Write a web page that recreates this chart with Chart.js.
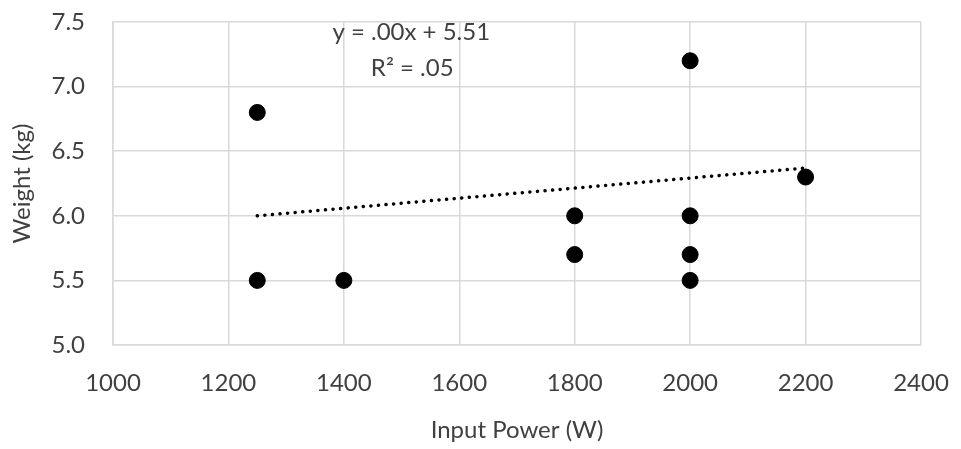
<!DOCTYPE html>
<html>
<head>
<meta charset="utf-8">
<script src="https://cdn.jsdelivr.net/npm/chart.js@4"></script>
<style>
  html, body { margin: 0; padding: 0; background: #fff; }
  #wrap { width: 961px; height: 449px; }
</style>
</head>
<body>
<div id="wrap"><canvas id="chart" width="961" height="449"></canvas></div>
<script>
// --- Data ---
const powerW = [1250, 1250, 1400, 1800, 1800, 2000, 2000, 2000, 2000, 2200];
const weightKg = [6.8, 5.5, 5.5, 6.0, 5.7, 7.2, 6.0, 5.7, 5.5, 6.3];
const trendX = [1250, 2200];
const trendY = [6.0, 6.37];
const trendLabel = ["y = .00x + 5.51", "R² = .05"];

const fontFamily = "Lato, 'Open Sans', sans-serif";
const fontSize = 24;
const textColor = "#404040";
const gridColor = "#d9d9d9";

// equation text near the top of the plot
const trendText = {
  id: "trendText",
  afterDatasetsDraw(chart) {
    const { ctx, scales } = chart;
    const cx = scales.x.getPixelForValue(1515);
    const top = chart.chartArea.top;
    ctx.save();
    ctx.fillStyle = textColor;
    ctx.font = fontSize + "px " + fontFamily;
    ctx.textAlign = "center";
    ctx.textBaseline = "middle";
    ctx.fillText(trendLabel[0], cx + 1, top + 10);
    ctx.fillText(trendLabel[1], cx + 2, top + 46);
    ctx.restore();
  }
};

new Chart(document.getElementById("chart"), {
  type: "scatter",
  data: {
    datasets: [
      {
        label: "Weight",
        data: powerW.map((x, i) => ({ x, y: weightKg[i] })),
        backgroundColor: "#000",
        borderColor: "#000",
        pointRadius: 8,
        pointHoverRadius: 8,
        order: 1
      },
      {
        label: "Trend",
        type: "line",
        data: trendX.map((x, i) => ({ x, y: trendY[i] })),
        borderColor: "#000",
        borderWidth: 3.5,
        borderDash: [0.1, 7.5],
        borderCapStyle: "round",
        pointRadius: 0,
        fill: false,
        order: 2
      }
    ]
  },
  options: {
    responsive: false,
    animation: false,
    layout: { autoPadding: false, padding: { top: 22, right: 40, left: 0, bottom: 0 } },
    plugins: {
      legend: { display: false },
      tooltip: { enabled: false }
    },
    scales: {
      x: {
        type: "linear",
        min: 1000,
        max: 2400,
        ticks: {
          stepSize: 200,
          color: textColor,
          font: { family: fontFamily, size: fontSize },
          padding: 24,
          maxRotation: 0,
          callback: v => String(v)
        },
        grid: { color: gridColor, lineWidth: 1.5, drawTicks: false },
        border: { color: gridColor, width: 1.5 },
        title: {
          display: true,
          text: "Input Power (W)",
          color: textColor,
          font: { family: fontFamily, size: fontSize },
          padding: { top: 8 }
        },
        afterFit(scale) {
          scale.height = 104;
          scale.paddingLeft = 0;
          scale.paddingRight = 0;
        }
      },
      y: {
        min: 5.0,
        max: 7.5,
        ticks: {
          stepSize: 0.5,
          color: textColor,
          font: { family: fontFamily, size: fontSize },
          padding: 28,
          callback: v => v.toFixed(1)
        },
        grid: { color: gridColor, lineWidth: 1.5, drawTicks: false },
        border: { color: gridColor, width: 1.5 },
        title: {
          display: true,
          text: "Weight (kg)",
          color: textColor,
          font: { family: fontFamily, size: fontSize },
          padding: { top: 8, bottom: 4 }
        },
        afterFit(scale) {
          scale.width = 113;
          scale.paddingTop = 0;
          scale.paddingBottom = 0;
        }
      }
    }
  },
  plugins: [trendText]
});
</script>
</body>
</html>
